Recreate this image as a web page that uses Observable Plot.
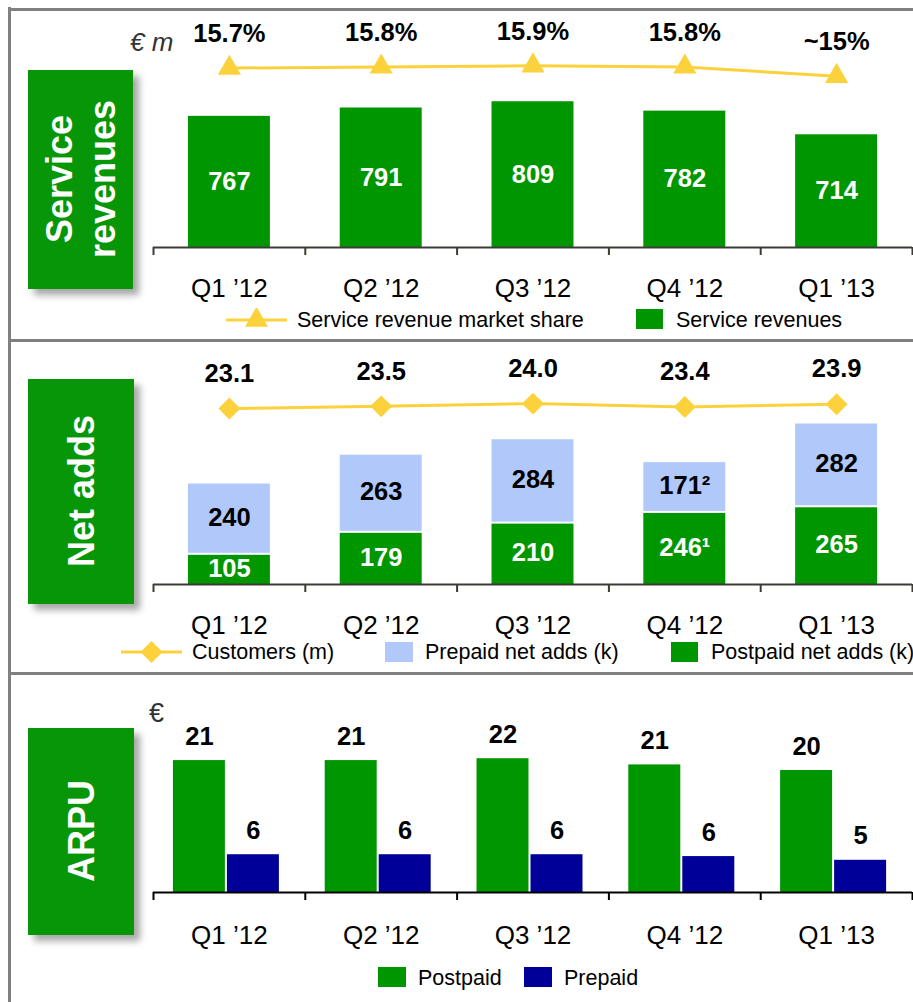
<!DOCTYPE html>
<html><head><meta charset="utf-8">
<script src="https://cdn.jsdelivr.net/npm/d3@7"></script>
<script src="https://cdn.jsdelivr.net/npm/@observablehq/plot@0.6"></script>
<style>
body{margin:0;background:#fff;font-family:"Liberation Sans",Arial,sans-serif;}
#root{position:relative;width:913px;height:1002px;overflow:hidden;background:#fff;}
.layer{position:absolute;left:0;}
.hline{position:absolute;background:#808080;height:3px;}
.vline{position:absolute;background:#808080;width:3px;}
.box{position:absolute;background:#079607;box-shadow:6px 6px 7px rgba(0,0,0,0.35);display:flex;align-items:center;justify-content:center;}
.box span{writing-mode:vertical-rl;transform:rotate(180deg);color:#fff;font-weight:bold;font-size:36px;line-height:43px;text-align:center;white-space:nowrap;}
.leg{position:absolute;font-size:21.5px;line-height:24px;color:#000;white-space:nowrap;}
.unit{position:absolute;line-height:30px;color:#333;white-space:nowrap;}
.sw{position:absolute;}
</style></head><body><div id="root"></div>
<script>
// ---- data ----
const quarters = ["Q1 ’12", "Q2 ’12", "Q3 ’12", "Q4 ’12", "Q1 ’13"];
const serviceRevenues = [767, 791, 809, 782, 714];
const marketShare = [15.7, 15.8, 15.9, 15.8, 15.0];
const marketShareLabels = ["15.7%", "15.8%", "15.9%", "15.8%", "~15%"];
const customers = [23.1, 23.5, 24.0, 23.4, 23.9];
const customerLabels = ["23.1", "23.5", "24.0", "23.4", "23.9"];
const postpaidNetAdds = [105, 179, 210, 246, 265];
const postpaidNetAddsLabels = ["105", "179", "210", "246¹", "265"];
const prepaidNetAdds = [240, 263, 284, 171, 282];
const prepaidNetAddsLabels = ["240", "263", "284", "171²", "282"];
const arpuPostpaid = [21.3, 21.3, 21.6, 20.6, 19.7];
const arpuPrepaid = [6.1, 6.1, 6.1, 5.8, 5.2];
const arpuPostpaidLabels = ["21", "21", "22", "21", "20"];
const arpuPrepaidLabels = ["6", "6", "6", "6", "5"];

// ---- styles ----
const FONT = "Liberation Sans, Arial, sans-serif";
const GREEN = "#009600";
const LIGHTBLUE = "#b0c9fa";
const NAVY = "#000099";
const YELLOW = "#fcd23c";
const AXIS = "#3c3c34";
const AXIS_FONT = 26;

const W = 913, ML = 153, MR = 1;
const STEP = (W - ML - MR) / quarters.length;
const root = document.getElementById("root");

function base(opts) {
  return Object.assign({
    width: W, marginLeft: ML, marginRight: MR, marginTop: 0,
    style: {background: "transparent", fontFamily: FONT, fontSize: "25.5px", color: "#000", overflow: "visible"}
  }, opts);
}
function xBand(pi, po) {
  return {domain: quarters, paddingInner: pi, paddingOuter: po, round: false};
}
function boundaryTicks(yBase, color) {
  const o = {x: d => d, y1: () => yBase, y2: () => yBase, insetTop: 0, insetBottom: -8, stroke: color, strokeWidth: 2};
  return [
    Plot.ruleX(quarters, {...o, dx: -STEP / 2}),
    Plot.ruleX(quarters.slice(-1), {...o, dx: STEP / 2})
  ];
}
function place(el, top) {
  const d = document.createElement("div");
  d.className = "layer";
  d.style.top = top + "px";
  d.appendChild(el);
  root.appendChild(d);
}

// ---- panel 1: service revenues ----
const srRows = quarters.map((q, i) => ({quarter: q, value: serviceRevenues[i], share: marketShare[i], shareLabel: marketShareLabels[i]}));
const SR_BASE = 390;
place(Plot.plot(base({
  height: 300, marginBottom: 53,
  x: xBand(0.46, 0.23),
  y: {domain: [SR_BASE, 1100], axis: null},
  marks: [
    Plot.barY(srRows, {x: "quarter", y1: () => SR_BASE, y2: "value", fill: GREEN}),
    Plot.text(srRows, {x: "quarter", y: d => (SR_BASE + d.value) / 2, text: d => String(d.value), fill: "white", fontWeight: "bold"}),
    Plot.ruleY([SR_BASE], {stroke: AXIS, strokeWidth: 2}),
    ...boundaryTicks(SR_BASE, AXIS),
    Plot.axisX({tickSize: 0, tickPadding: 31, label: null, fontSize: AXIS_FONT})
  ]
})), 0);
place(Plot.plot(base({
  height: 300, marginBottom: 53,
  x: {...xBand(0.46, 0.23), axis: null},
  y: {domain: [0.3, 21.5], axis: null},
  marks: [
    Plot.line(srRows, {x: "quarter", y: "share", stroke: YELLOW, strokeWidth: 3}),
    Plot.dot(srRows, {x: "quarter", y: "share", symbol: "triangle", r: 8.6, fill: YELLOW}),
    Plot.text(srRows, {x: "quarter", y: "share", text: "shareLabel", dy: -34, fontWeight: "bold", fill: "#000"})
  ]
})), 0);

// ---- panel 2: net adds ----
const naRows = quarters.map((q, i) => ({quarter: q, type: "Postpaid", value: postpaidNetAdds[i], label: postpaidNetAddsLabels[i], below: 0}))
  .concat(quarters.map((q, i) => ({quarter: q, type: "Prepaid", value: prepaidNetAdds[i], label: prepaidNetAddsLabels[i], below: postpaidNetAdds[i]})));
const custRows = quarters.map((q, i) => ({quarter: q, value: customers[i], label: customerLabels[i]}));
place(Plot.plot(base({
  height: 300, marginBottom: 57,
  x: xBand(0.46, 0.23),
  y: {domain: [0, 818], axis: null},
  color: {domain: ["Postpaid", "Prepaid"], range: [GREEN, LIGHTBLUE]},
  marks: [
    Plot.barY(naRows, {x: "quarter", y: "value", fill: "type", insetTop: 2}),
    Plot.text(naRows.filter(d => d.type === "Postpaid"), {x: "quarter", y: d => d.below + d.value / 2, text: "label", fill: "white", fontWeight: "bold"}),
    Plot.text(naRows.filter(d => d.type === "Prepaid"), {x: "quarter", y: d => d.below + d.value / 2, text: "label", fill: "#000", fontWeight: "bold"}),
    Plot.ruleY([0], {stroke: AXIS, strokeWidth: 2}),
    ...boundaryTicks(0, AXIS),
    Plot.axisX({tickSize: 0, tickPadding: 31, label: null, fontSize: AXIS_FONT})
  ]
})), 341);
place(Plot.plot(base({
  height: 300, marginBottom: 57,
  x: {...xBand(0.46, 0.23), axis: null},
  y: {domain: [-8.9, 35.3], axis: null},
  marks: [
    Plot.line(custRows, {x: "quarter", y: "value", stroke: YELLOW, strokeWidth: 3}),
    Plot.dot(custRows, {x: "quarter", y: "value", symbol: "diamond2", r: 9.9, fill: YELLOW}),
    Plot.text(custRows, {x: "quarter", y: "value", text: "label", dy: -35, fontWeight: "bold", fill: "#000"})
  ]
})), 341);

// ---- panel 3: ARPU ----
const arpuRows = quarters.map((q, i) => ({quarter: q, post: arpuPostpaid[i], pre: arpuPrepaid[i], postLabel: arpuPostpaidLabels[i], preLabel: arpuPrepaidLabels[i]}));
place(Plot.plot(base({
  height: 300, marginBottom: 82,
  x: xBand(0.6575, 0.32875),
  y: {domain: [0, 35.2], axis: null},
  marks: [
    Plot.barY(arpuRows, {x: "quarter", y: "post", fill: GREEN, dx: -30}),
    Plot.barY(arpuRows, {x: "quarter", y: "pre", fill: NAVY, dx: 24}),
    Plot.text(arpuRows, {x: "quarter", y: "post", text: "postLabel", dx: -30, dy: -24, fontWeight: "bold", fill: "#000"}),
    Plot.text(arpuRows, {x: "quarter", y: "pre", text: "preLabel", dx: 24, dy: -24, fontWeight: "bold", fill: "#000"}),
    Plot.ruleY([0], {stroke: "#000", strokeWidth: 2}),
    ...boundaryTicks(0, "#000"),
    Plot.axisX({tickSize: 0, tickPadding: 33, label: null, fontSize: AXIS_FONT})
  ]
})), 674);

// ---- frame lines ----
function div(cls, css, html) {
  const d = document.createElement("div");
  d.className = cls;
  Object.assign(d.style, css);
  if (html != null) d.innerHTML = html;
  root.appendChild(d);
  return d;
}
div("hline", {left: "8px", top: "8px", width: "905px"});
div("hline", {left: "8px", top: "339px", width: "905px"});
div("hline", {left: "8px", top: "672px", width: "905px"});
div("vline", {left: "8px", top: "7px", height: "995px"});

// ---- section label boxes ----
div("box", {left: "28px", top: "70px", width: "105px", height: "219px"}, "<span>Service<br>revenues</span>");
div("box", {left: "28px", top: "379px", width: "106px", height: "225px"}, "<span>Net adds</span>");
div("box", {left: "28px", top: "728px", width: "106px", height: "207px"}, "<span>ARPU</span>");

// ---- units ----
div("unit", {left: "130px", top: "27px", fontStyle: "italic", fontSize: "26px"}, "€ m");
div("unit", {left: "149px", top: "698px", fontSize: "27px"}, "€");

// ---- legends ----
function legText(x, yc, t) { div("leg", {left: x + "px", top: (yc - 12) + "px"}, t); }
function legSquare(x, yc, w, h, color) { div("sw", {left: x + "px", top: (yc - h / 2) + "px", width: w + "px", height: h + "px", background: color}); }
function legLine(x1, x2, yc, symbolType, size) {
  const svg = d3.create("svg").attr("width", x2 - x1).attr("height", 24)
    .style("position", "absolute").style("left", x1 + "px").style("top", (yc - 12) + "px");
  svg.append("line").attr("x1", 0).attr("x2", x2 - x1).attr("y1", 12).attr("y2", 12).attr("stroke", YELLOW).attr("stroke-width", 3);
  svg.append("path").attr("d", d3.symbol(symbolType, size)()).attr("transform", `translate(${(x2 - x1) / 2},12)`).attr("fill", YELLOW);
  root.appendChild(svg.node());
}
legLine(226, 287, 320, d3.symbolTriangle, 230);
legText(297, 320, "Service revenue market share");
legSquare(636, 319, 27, 20, GREEN);
legText(676, 320, "Service revenues");

legLine(121, 182, 652, d3.symbolDiamond2, 308);
legText(192, 652, "Customers (m)");
legSquare(385, 652, 28, 20, LIGHTBLUE);
legText(425, 652, "Prepaid net adds (k)");
legSquare(671, 652, 27, 20, GREEN);
legText(711, 652, "Postpaid net adds (k)");

legSquare(378, 977, 28, 20, GREEN);
legText(418, 978, "Postpaid");
legSquare(524, 977, 28, 20, NAVY);
legText(564, 978, "Prepaid");
</script>
</body></html>
